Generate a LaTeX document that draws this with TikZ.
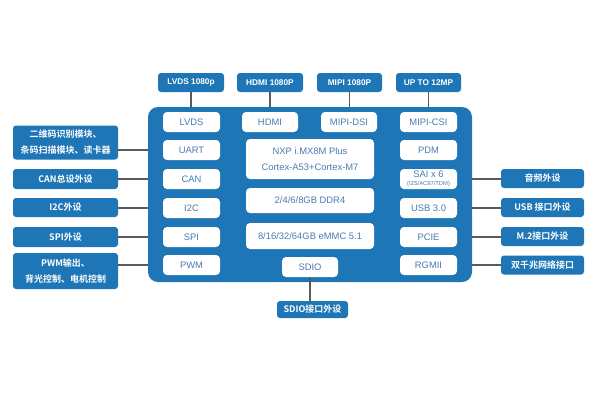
\documentclass[tikz,border=0pt]{standalone}
\usepackage{fontspec}
\setmainfont{Liberation Sans}
\newfontfamily\cjk{Noto Sans CJK SC}[BoldFont={* Bold}]
\definecolor{mainblue}{HTML}{1E76B6}
\definecolor{innertext}{HTML}{4A7BB0}
\definecolor{linegray}{HTML}{5A5A5A}
\tikzset{
  bigbox/.style={fill=mainblue, draw=none, rounded corners=10pt},
  ibox/.style={fill=white, draw=none, rounded corners=4pt, text=innertext,
    font=\fontsize{9.4}{10}\selectfont, inner sep=0pt, minimum height=20pt},
  obox/.style={fill=mainblue, draw=none, rounded corners=3pt, text=white,
    font=\fontsize{8.3}{10}\selectfont\bfseries, inner sep=0pt, minimum height=19pt},
  cbox/.style={obox, font=\fontsize{9}{16}\selectfont\cjk\bfseries, align=center},
  conn/.style={draw=linegray, line width=1.2pt}
}
\begin{document}
\begin{tikzpicture}[x=1pt,y=-1pt]
\useasboundingbox (0,0) rectangle (600,400);
% main board
\node[bigbox, minimum width=324pt, minimum height=175pt, inner sep=0pt] (board) at (310,194.5) {};
% inner column 1
\node[ibox, minimum width=57pt] (lvds) at (191.5,122) {LVDS};
\node[ibox, minimum width=57pt] (uart) at (191.5,150) {UART};
\node[ibox, minimum width=57pt] (can) at (191.5,179) {CAN};
\node[ibox, minimum width=57pt] (iic) at (191.5,208) {I2C};
\node[ibox, minimum width=57pt] (spi) at (191.5,237) {SPI};
\node[ibox, minimum width=57pt] (pwm) at (191.5,265) {PWM};
% inner column 2/3
\node[ibox, minimum width=56pt] (hdmi) at (270,122) {HDMI};
\node[ibox, minimum width=56pt] (dsi) at (349,122) {MIPI-DSI};
\node[ibox, minimum width=128pt, minimum height=40pt, align=center,
  font=\fontsize{9.4}{15.5}\selectfont] (nxp) at (310,159) {NXP i.MX8M Plus\\Cortex-A53+Cortex-M7};
\node[ibox, minimum width=128pt, minimum height=25pt] (ddr) at (310,200.5) {2/4/6/8GB DDR4};
\node[ibox, minimum width=128pt, minimum height=26pt] (emmc) at (310,236) {8/16/32/64GB eMMC 5.1};
\node[ibox, minimum width=56pt] (sdio) at (310,267) {SDIO};
% inner column 4
\node[ibox, minimum width=57pt] (csi) at (428.5,122) {MIPI-CSI};
\node[ibox, minimum width=57pt] (pdm) at (428.5,150) {PDM};
\node[ibox, minimum width=57pt, align=center, font=\fontsize{9.4}{8}\selectfont] (sai) at (428.5,179) {SAI x 6\\{\fontsize{5.8}{6}\selectfont (I2S/AC97/TDM)}};
\node[ibox, minimum width=57pt] (usb) at (428.5,208) {USB 3.0};
\node[ibox, minimum width=57pt] (pcie) at (428.5,237) {PCIE};
\node[ibox, minimum width=57pt] (rgmii) at (428.5,265) {RGMII};
% top boxes
\node[obox, minimum width=66pt] (tlvds) at (191,82.5) {LVDS 1080p};
\node[obox, minimum width=66pt] (thdmi) at (270,82.5) {HDMI 1080P};
\node[obox, minimum width=65pt] (tmipi) at (349.5,82.5) {MIPI 1080P};
\node[obox, minimum width=65pt] (tup) at (428.5,82.5) {UP TO 12MP};
% left boxes
\node[cbox, minimum width=105pt, minimum height=34pt] (lqr) at (65.5,142.5) {二维码识别模块、\\条码扫描模块、读卡器};
\node[cbox, minimum width=105pt, minimum height=20pt] (lcan) at (65.5,179) {CAN总设外设};
\node[cbox, minimum width=105pt, minimum height=19pt] (liic) at (65.5,207.5) {I2C外设};
\node[cbox, minimum width=105pt, minimum height=20pt] (lspi) at (65.5,237) {SPI外设};
\node[cbox, minimum width=105pt, minimum height=36pt] (lpwm) at (65.5,271) {PWM输出、\\背光控制、电机控制};
% right boxes
\node[cbox, minimum width=83pt, minimum height=19pt] (raud) at (542.5,178.5) {音频外设};
\node[cbox, minimum width=83pt, minimum height=19pt] (rusb) at (542.5,207.5) {USB 接口外设};
\node[cbox, minimum width=83pt, minimum height=19pt] (rm2) at (542.5,236.5) {M.2接口外设};
\node[cbox, minimum width=83pt, minimum height=19pt] (rnet) at (542.5,265) {双千兆网络接口};
% bottom box
\node[cbox, minimum width=71pt, minimum height=17pt] (bsdio) at (312.5,309.5) {SDIO接口外设};
% connectors top
\draw[conn] (tlvds.south) -- (tlvds.south |- board.north);
\draw[conn] (thdmi.south) -- (thdmi.south |- board.north);
\draw[conn] (tmipi.south) -- (tmipi.south |- board.north);
\draw[conn] (tup.south) -- (tup.south |- board.north);
% connectors left
\draw[conn] (uart -| lqr.east) -- (uart -| board.west);
\draw[conn] (can -| lcan.east) -- (can -| board.west);
\draw[conn] (iic -| liic.east) -- (iic -| board.west);
\draw[conn] (spi -| lspi.east) -- (spi -| board.west);
\draw[conn] (pwm -| lpwm.east) -- (pwm -| board.west);
% connectors right
\draw[conn] (sai -| board.east) -- (sai -| raud.west);
\draw[conn] (usb -| board.east) -- (usb -| rusb.west);
\draw[conn] (pcie -| board.east) -- (pcie -| rm2.west);
\draw[conn] (rgmii -| board.east) -- (rgmii -| rnet.west);
% connector bottom
\draw[conn] (sdio.south) -- (sdio.south |- bsdio.north);
\end{tikzpicture}
\end{document}
